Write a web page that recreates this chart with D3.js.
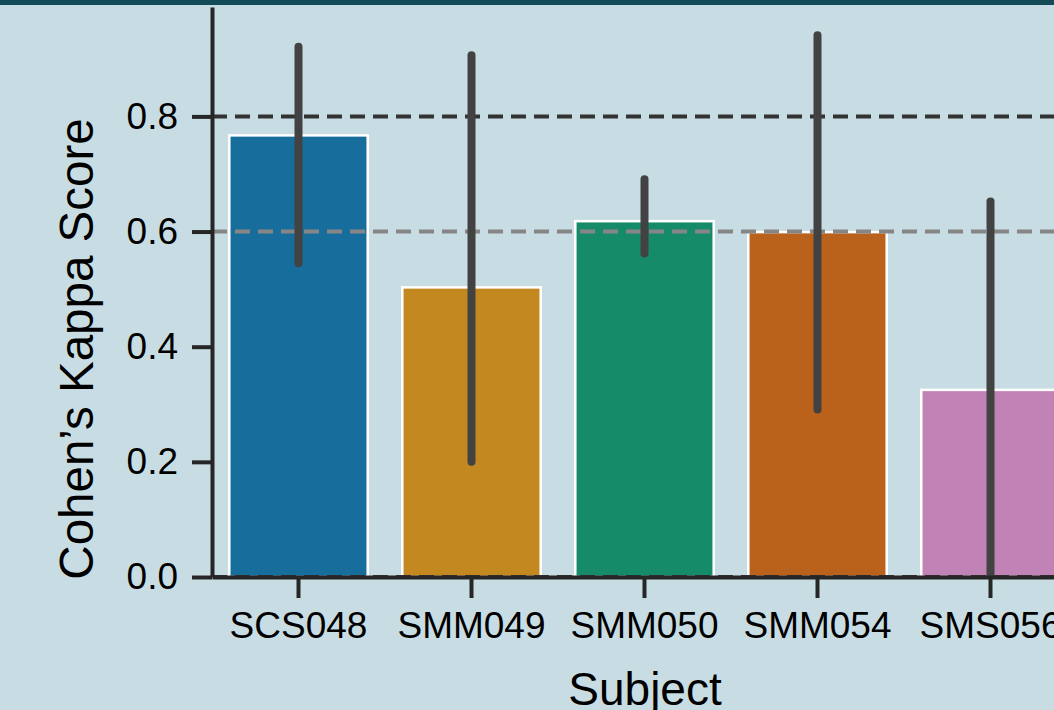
<!DOCTYPE html>
<html>
<head>
<meta charset="utf-8">
<script src="https://cdn.jsdelivr.net/npm/d3@7"></script>
<style>
  html, body { margin: 0; padding: 0; background: #c8dde3; overflow: hidden; }
  svg { display: block; font-family: "Liberation Sans", Arial, sans-serif; }
</style>
</head>
<body>
<svg id="chart" width="1054" height="710"></svg>
<script>
// values
var subjects = ["SCS048", "SMM049", "SMM050", "SMM054", "SMS056"];
var kappaMean = [0.767, 0.503, 0.618, 0.599, 0.325];
var ciLow = [0.545, 0.200, 0.562, 0.291, -0.05];
var ciHigh = [0.921, 0.906, 0.691, 0.941, 0.652];
var barColors = ["#176d9c", "#c38820", "#168b6a", "#ba611b", "#c182b5"];
var yTicks = [0.0, 0.2, 0.4, 0.6, 0.8];
var refLines = [
  {value: 0.8, color: "#333333"},
  {value: 0.6, color: "#868686"},
  {value: 0.0, color: "#333333"}
];

var svg = d3.select("#chart");
var width = 1054, height = 710;

var plotLeft = 212, plotRight = 1077, plotTop = 7, plotBottom = 577;

svg.append("rect").attr("width", width).attr("height", height).attr("fill", "#c8dde3");
svg.append("rect").attr("width", width).attr("height", 5).attr("fill", "#134b57");

var x = d3.scaleBand()
  .domain(subjects)
  .range([plotLeft, plotRight])
  .paddingInner(0.2)
  .paddingOuter(0.1);

var y = d3.scaleLinear()
  .domain([0, 0.99])
  .range([plotBottom, plotTop]);

svg.append("clipPath").attr("id", "plotclip")
  .append("rect")
  .attr("x", plotLeft).attr("y", plotTop)
  .attr("width", plotRight - plotLeft).attr("height", plotBottom - plotTop);

var plot = svg.append("g").attr("clip-path", "url(#plotclip)");

// bars
plot.selectAll("rect.bar")
  .data(subjects)
  .enter()
  .append("rect")
  .attr("class", "bar")
  .attr("x", function(d) { return x(d); })
  .attr("width", x.bandwidth())
  .attr("y", function(d, i) { return y(kappaMean[i]); })
  .attr("height", function(d, i) { return y(0) - y(kappaMean[i]); })
  .attr("fill", function(d, i) { return barColors[i]; })
  .attr("stroke", "#ffffff")
  .attr("stroke-width", 2.5);

// reference lines
plot.selectAll("line.ref")
  .data(refLines)
  .enter()
  .append("line")
  .attr("class", "ref")
  .attr("x1", plotLeft)
  .attr("x2", plotRight)
  .attr("y1", function(d) { return y(d.value); })
  .attr("y2", function(d) { return y(d.value); })
  .attr("stroke", function(d) { return d.color; })
  .attr("stroke-width", 4)
  .attr("stroke-dasharray", "15,8");

// error bars
plot.selectAll("line.err")
  .data(subjects)
  .enter()
  .append("line")
  .attr("class", "err")
  .attr("x1", function(d) { return x(d) + x.bandwidth() / 2; })
  .attr("x2", function(d) { return x(d) + x.bandwidth() / 2; })
  .attr("y1", function(d, i) { return y(ciLow[i]); })
  .attr("y2", function(d, i) { return y(ciHigh[i]); })
  .attr("stroke", "#424242")
  .attr("stroke-width", 8)
  .attr("stroke-linecap", "round");

// axes
var xAxis = d3.axisBottom(x).tickSize(21).tickPadding(8).tickSizeOuter(0);
var gx = svg.append("g")
  .attr("transform", "translate(0," + plotBottom + ")")
  .call(xAxis);
gx.select(".domain").attr("stroke", "#262626").attr("stroke-width", 4);
gx.selectAll(".tick line").attr("stroke", "#262626").attr("stroke-width", 4);
gx.selectAll(".tick text")
  .attr("fill", "#000")
  .attr("font-size", 37)
  .attr("dy", "0.71em")
  .attr("y", 35);

var yAxis = d3.axisLeft(y).tickValues(yTicks).tickFormat(d3.format(".1f")).tickSize(20).tickPadding(14).tickSizeOuter(0);
var gy = svg.append("g")
  .attr("transform", "translate(" + plotLeft + ",0)")
  .call(yAxis);
gy.select(".domain").attr("stroke", "#262626").attr("stroke-width", 4);
gy.selectAll(".tick line").attr("stroke", "#262626").attr("stroke-width", 4);
gy.selectAll(".tick text")
  .attr("fill", "#000")
  .attr("font-size", 37);

// axis labels
svg.append("text")
  .attr("x", 645)
  .attr("y", 705)
  .attr("text-anchor", "middle")
  .attr("font-size", 46)
  .attr("fill", "#000")
  .text("Subject");

svg.append("text")
  .attr("transform", "translate(93,349) rotate(-90)")
  .attr("text-anchor", "middle")
  .attr("font-size", 47.5)
  .attr("fill", "#000")
  .text("Cohen\u2019s Kappa Score");
</script>
</body>
</html>
